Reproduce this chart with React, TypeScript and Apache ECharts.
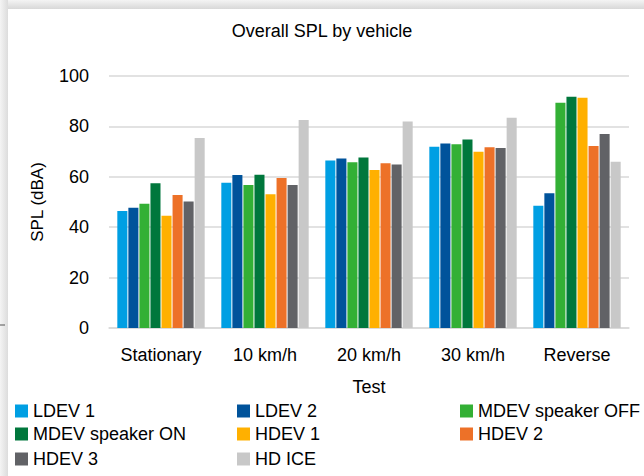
import React, { useEffect, useRef } from "react";
import * as echarts from "echarts";

const categories = ["Stationary", "10 km/h", "20 km/h", "30 km/h", "Reverse"];
const seriesNames = [
  "LDEV 1",
  "LDEV 2",
  "MDEV speaker OFF",
  "MDEV speaker ON",
  "HDEV 1",
  "HDEV 2",
  "HDEV 3",
  "HD ICE",
];
const ldev1 = [46.4, 57.6, 66.5, 71.9, 48.5];
const ldev2 = [47.7, 60.7, 67.3, 73.2, 53.5];
const mdevOff = [49.3, 56.7, 65.8, 72.9, 89.4];
const mdevOn = [57.4, 60.8, 67.7, 74.8, 91.8];
const hdev1 = [44.5, 53.1, 62.7, 69.9, 91.4];
const hdev2 = [52.8, 59.5, 65.4, 71.7, 72.2];
const hdev3 = [50.2, 56.7, 64.9, 71.4, 77.0];
const hdIce = [75.4, 82.5, 81.9, 83.4, 66.0];
const yTicks = { min: 0, max: 100, interval: 20 };

const seriesValues = [ldev1, ldev2, mdevOff, mdevOn, hdev1, hdev2, hdev3, hdIce];
const colors = [
  "#009fe3",
  "#00539b",
  "#33b035",
  "#00773c",
  "#ffb000",
  "#ed7128",
  "#616266",
  "#c8c8c8",
];

const FONT = "Liberation Sans";

export default function App() {
  const ref = useRef<HTMLDivElement>(null);
  useEffect(() => {
    if (!ref.current) return;
    const chart = echarts.init(ref.current, null, { renderer: "svg" });
    const legendText = { fontFamily: FONT, fontSize: 18, color: "#000", lineHeight: 18 };
    const colLeft = [15, 237, 460];
    const rowTop = [402, 425, 450];
    const legends = seriesNames.map((name, i) => ({
      left: colLeft[i % 3],
      top: rowTop[Math.floor(i / 3)],
      padding: 0,
      itemWidth: 13,
      itemHeight: 13,
      itemGap: 5,
      icon: "rect",
      textStyle: legendText,
      selectedMode: false,
      data: [name],
    }));
    chart.setOption({
      animation: false,
      backgroundColor: "#ffffff",
      color: colors,
      graphic: [
        {
          type: "rect",
          shape: { x: 0, y: 0, width: 644, height: 9 },
          style: {
            fill: new echarts.graphic.LinearGradient(0, 0, 0, 1, [
              { offset: 0, color: "#f4f4f4" },
              { offset: 1, color: "#d8d8d8" },
            ]),
          },
          z: 0,
        },
        {
          type: "rect",
          shape: { x: 0, y: 0, width: 8, height: 476 },
          style: {
            fill: new echarts.graphic.LinearGradient(0, 0, 1, 0, [
              { offset: 0, color: "#f4f4f4" },
              { offset: 1, color: "#dcdcdc" },
            ]),
          },
          z: 0,
        },
        {
          type: "line",
          shape: { x1: 0, y1: 325, x2: 5, y2: 325 },
          style: { stroke: "#555", lineWidth: 1 },
        },
      ],
      title: {
        text: "Overall SPL by vehicle",
        left: "center",
        top: 17,
        textStyle: { fontFamily: FONT, fontSize: 18, fontWeight: "normal", color: "#000" },
      },
      grid: { left: 109, right: 15, top: 76, bottom: 148, containLabel: false },
      xAxis: {
        type: "category",
        data: categories,
        name: "Test",
        nameLocation: "middle",
        nameGap: 50,
        nameTextStyle: { fontFamily: FONT, fontSize: 18, color: "#000" },
        axisLine: { lineStyle: { color: "#d9d9d9", width: 1.5 } },
        axisTick: { show: false },
        axisLabel: { fontFamily: FONT, fontSize: 18, color: "#000", margin: 18, interval: 0 },
      },
      yAxis: {
        type: "value",
        min: yTicks.min,
        max: yTicks.max,
        interval: yTicks.interval,
        name: "SPL (dBA)",
        nameLocation: "middle",
        nameGap: 63,
        nameTextStyle: { fontFamily: FONT, fontSize: 17, color: "#000" },
        axisLine: { show: false },
        axisTick: { show: false },
        axisLabel: { fontFamily: FONT, fontSize: 18, color: "#000", margin: 20 },
        splitLine: { lineStyle: { color: "#d9d9d9", width: 1.5 } },
      },
      legend: legends,
      series: seriesNames.map((name, i) => ({
        name,
        type: "bar",
        data: seriesValues[i],
        barGap: "10%",
        barCategoryGap: "16%",
        itemStyle: { color: colors[i] },
      })),
    });
    return () => chart.dispose();
  }, []);
  return (
    <div
      ref={ref}
      style={{ position: "fixed", left: 0, top: 0, width: 644, height: 476 }}
    />
  );
}
